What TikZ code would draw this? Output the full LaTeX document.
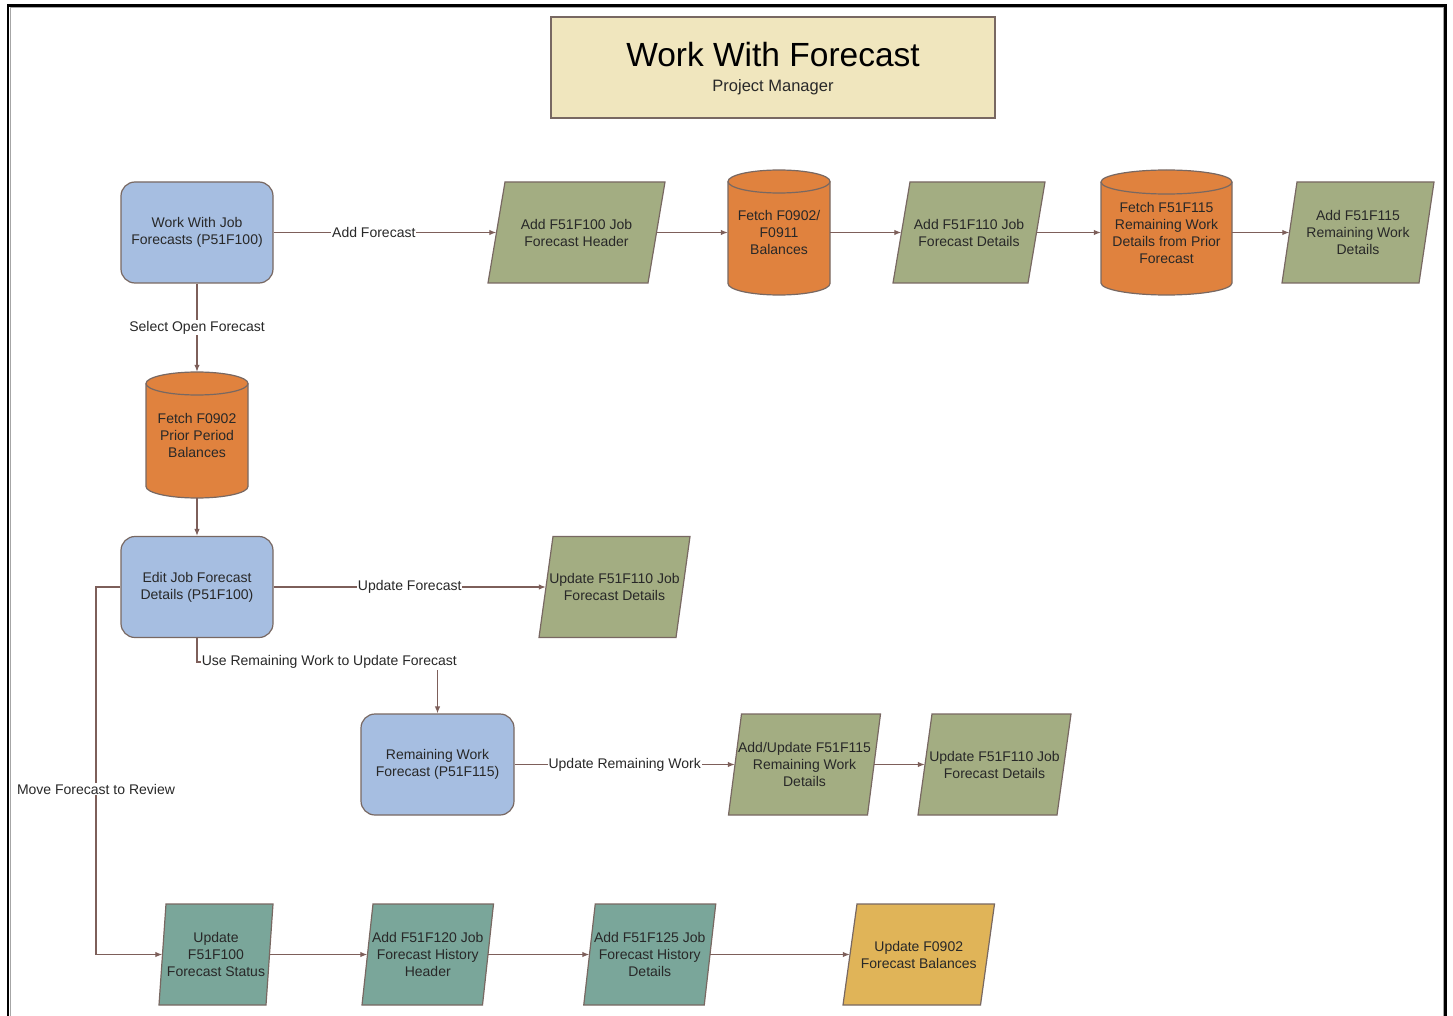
\documentclass[tikz,border=0pt]{standalone}
\usepackage{fontspec}
\setmainfont{Liberation Sans}
\usetikzlibrary{arrows.meta}
\definecolor{edgec}{RGB}{125,95,90}
\definecolor{bordc}{RGB}{120,104,98}
\definecolor{textc}{RGB}{40,40,40}
\definecolor{blueF}{RGB}{166,190,225}
\definecolor{oliveF}{RGB}{163,173,130}
\definecolor{orangeF}{RGB}{224,130,62}
\definecolor{tealF}{RGB}{122,166,154}
\definecolor{goldF}{RGB}{224,180,88}
\definecolor{titleF}{RGB}{240,230,190}
\tikzset{
  txt/.style={font=\fontsize{14}{17}\selectfont, text=textc, align=center, inner sep=0pt},
  rbox/.style={txt, draw=bordc, fill=blueF, line width=1.2pt, rounded corners=14pt,
               minimum width=152pt, minimum height=101pt},
  conn/.style={draw=edgec, line width=1.2pt, -{Latex[length=7pt,width=5.5pt]}},
  lbl/.style={font=\fontsize{14}{17}\selectfont, text=textc, fill=white, inner sep=1pt},
}
\newcommand{\pgram}[8]{%
  \filldraw[fill=#7, draw=bordc, line width=1.2pt]
    ({#2-#4/2+#6/2},{#3-#5/2}) -- ({#2+#4/2+#6/2},{#3-#5/2}) --
    ({#2+#4/2-#6/2},{#3+#5/2}) -- ({#2-#4/2-#6/2},{#3+#5/2}) -- cycle;
  \node[txt, minimum width=#4pt, minimum height=#5pt] (#1) at (#2,#3) {#8};
}
\newcommand{\cyl}[7]{%
  \filldraw[fill=orangeF, draw=bordc, line width=1.2pt]
    ({#2-#4/2},{#3-#5/2+#6}) -- ({#2-#4/2},{#3+#5/2-#6})
    arc[start angle=180, end angle=360, x radius=#4pt/2, y radius=#6pt]
    -- ({#2+#4/2},{#3-#5/2+#6})
    arc[start angle=0, end angle=180, x radius=#4pt/2, y radius=#6pt] -- cycle;
  \draw[bordc, line width=1.2pt] ({#2-#4/2},{#3-#5/2+#6})
    arc[start angle=180, end angle=360, x radius=#4pt/2, y radius=#6pt];
  \node[txt, minimum width=#4pt, minimum height=#5pt] (#1) at (#2,#3) {#7};
}
\begin{document}
\begin{tikzpicture}[x=1pt, y=-1pt]
\useasboundingbox (0,0) rectangle (1453,1016);
\fill[white] (0,0) rectangle (1453,1016);
% frame
\draw[black, line width=2.6pt] (8,1030) -- (8,5.5) -- (1445.5,5.5) -- (1445.5,1030);
\draw[gray!70, line width=0.8pt] (10.3,1030) -- (10.3,7.8) -- (1443.2,7.8) -- (1443.2,1030);
% title
\node[draw=bordc, fill=titleF, line width=1.2pt, minimum width=444pt, minimum height=101pt] (title) at (773,67.5) {};
\node[font=\fontsize{33.5}{38}\selectfont, text=black, inner sep=0pt] (ttext) at (773,55) {Work With Forecast};
\node[font=\fontsize{16.5}{19}\selectfont, text=textc, inner sep=0pt] (tsub) at (773,87) {Project Manager};

% row 1
\node[rbox] (n1) at (197,232.5) {Work With Job\\Forecasts (P51F100)};
\pgram{p1}{576.5}{232.5}{160}{101}{17}{oliveF}{Add F51F100 Job\\Forecast Header}
\cyl{c1}{779}{232.5}{102}{125}{11.5}{Fetch F0902/\\F0911\\Balances}
\pgram{p2}{969}{232.5}{135}{101}{17}{oliveF}{Add F51F110 Job\\Forecast Details}
\cyl{c2}{1166.5}{232.5}{131}{125}{12}{Fetch F51F115\\Remaining Work\\Details from Prior\\Forecast}
\pgram{p3}{1358}{232.5}{137}{101}{15}{oliveF}{Add F51F115\\Remaining Work\\Details}

% column
\cyl{c3}{197}{435}{102}{126}{11.5}{Fetch F0902\\Prior Period\\Balances}
\node[rbox] (n2) at (197,587) {Edit Job Forecast\\Details (P51F100)};
\pgram{p4}{614.5}{587}{137}{101}{14}{oliveF}{Update F51F110 Job\\Forecast Details}

% row 3
\node[rbox, minimum width=153pt] (n3) at (437.5,764.5) {Remaining Work\\Forecast (P51F115)};
\pgram{p5}{804.5}{764.5}{139}{101}{13}{oliveF}{Add/Update F51F115\\Remaining Work\\Details}
\pgram{p6}{994.5}{764.5}{139}{101}{14}{oliveF}{Update F51F110 Job\\Forecast Details}

% row 4
\pgram{p7}{216}{954.5}{107}{101}{7}{tealF}{Update\\F51F100\\Forecast Status}
\pgram{p8}{427.75}{954.5}{120.5}{101}{11}{tealF}{Add F51F120 Job\\Forecast History\\Header}
\pgram{p9}{649.75}{954.5}{120.5}{101}{11.5}{tealF}{Add F51F125 Job\\Forecast History\\Details}
\pgram{p10}{918.75}{954.5}{137.5}{101}{14}{goldF}{Update F0902\\Forecast Balances}

% connectors
\draw[conn] (n1.east) -- node[lbl, pos=0.45] {Add Forecast} (p1.west);
\draw[conn] (p1.east) -- (c1.west);
\draw[conn] (c1.east) -- (p2.west);
\draw[conn] (p2.east) -- (c2.west);
\draw[conn] (c2.east) -- (p3.west);
\draw[conn] (n1.south) -- node[lbl] {Select Open Forecast} (c3.north);
\draw[conn] (c3.south) -- (n2.north);
\draw[conn] (n2.east) -- node[lbl, pos=0.5] {Update Forecast} (p4.west);
\coordinate (k1) at (197,662);
\coordinate (k2) at (437.5,662);
\draw[conn] (n2.south) -- (k1) -- node[lbl, pos=0.55] {Use Remaining Work to Update Forecast} (k2) -- (n3.north);
\draw[conn] (n3.east) -- node[lbl, pos=0.5] {Update Remaining Work} (p5.west);
\draw[conn] (p5.east) -- (p6.west);
\coordinate (m1) at (96,587);
\coordinate (m2) at (96,954.5);
\draw[conn] (n2.west) -- (m1) -- node[lbl, pos=0.55] {Move Forecast to Review} (m2) -- (p7.west);
\draw[conn] (p7.east) -- (p8.west);
\draw[conn] (p8.east) -- (p9.west);
\draw[conn] (p9.east) -- (p10.west);
\end{tikzpicture}
\end{document}
